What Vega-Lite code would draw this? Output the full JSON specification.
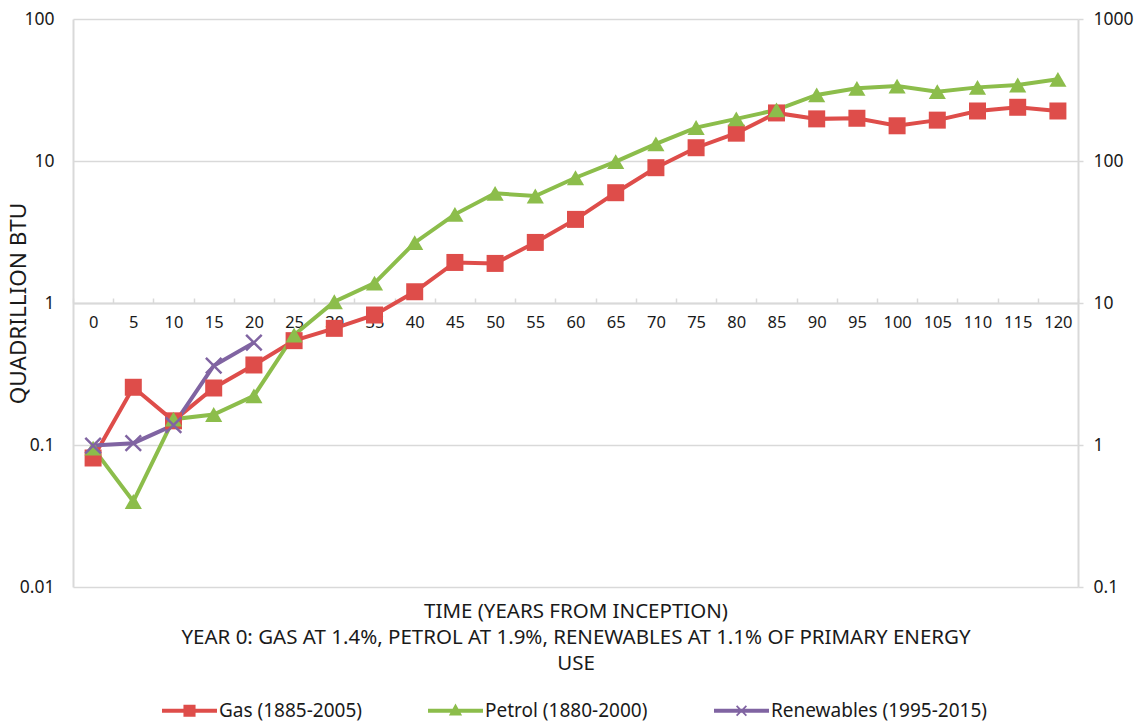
{
  "$schema": "https://vega.github.io/schema/vega-lite/v6.json",
  "width": 1005,
  "height": 568,
  "autosize": "none",
  "padding": {"left": 73, "top": 19, "right": 69, "bottom": 137},
  "background": "white",
  "config": {"view": {"stroke": null}, "font": "Noto Sans"},
  "data": {
    "values": [
      {"t": 0, "series": "Gas (1885-2005)", "v": 0.081},
      {"t": 5, "series": "Gas (1885-2005)", "v": 0.255},
      {"t": 10, "series": "Gas (1885-2005)", "v": 0.148},
      {"t": 15, "series": "Gas (1885-2005)", "v": 0.252},
      {"t": 20, "series": "Gas (1885-2005)", "v": 0.366},
      {"t": 25, "series": "Gas (1885-2005)", "v": 0.543},
      {"t": 30, "series": "Gas (1885-2005)", "v": 0.663},
      {"t": 35, "series": "Gas (1885-2005)", "v": 0.823},
      {"t": 40, "series": "Gas (1885-2005)", "v": 1.2},
      {"t": 45, "series": "Gas (1885-2005)", "v": 1.93},
      {"t": 50, "series": "Gas (1885-2005)", "v": 1.9},
      {"t": 55, "series": "Gas (1885-2005)", "v": 2.67},
      {"t": 60, "series": "Gas (1885-2005)", "v": 3.88},
      {"t": 65, "series": "Gas (1885-2005)", "v": 5.98},
      {"t": 70, "series": "Gas (1885-2005)", "v": 8.97},
      {"t": 75, "series": "Gas (1885-2005)", "v": 12.4},
      {"t": 80, "series": "Gas (1885-2005)", "v": 15.7},
      {"t": 85, "series": "Gas (1885-2005)", "v": 21.8},
      {"t": 90, "series": "Gas (1885-2005)", "v": 19.8},
      {"t": 95, "series": "Gas (1885-2005)", "v": 20.0},
      {"t": 100, "series": "Gas (1885-2005)", "v": 17.7},
      {"t": 105, "series": "Gas (1885-2005)", "v": 19.4},
      {"t": 110, "series": "Gas (1885-2005)", "v": 22.5},
      {"t": 115, "series": "Gas (1885-2005)", "v": 23.9},
      {"t": 120, "series": "Gas (1885-2005)", "v": 22.5},
      {"t": 0, "series": "Petrol (1880-2000)", "v": 0.095},
      {"t": 5, "series": "Petrol (1880-2000)", "v": 0.04},
      {"t": 10, "series": "Petrol (1880-2000)", "v": 0.152},
      {"t": 15, "series": "Petrol (1880-2000)", "v": 0.164},
      {"t": 20, "series": "Petrol (1880-2000)", "v": 0.222},
      {"t": 25, "series": "Petrol (1880-2000)", "v": 0.595},
      {"t": 30, "series": "Petrol (1880-2000)", "v": 1.02},
      {"t": 35, "series": "Petrol (1880-2000)", "v": 1.38},
      {"t": 40, "series": "Petrol (1880-2000)", "v": 2.66},
      {"t": 45, "series": "Petrol (1880-2000)", "v": 4.21},
      {"t": 50, "series": "Petrol (1880-2000)", "v": 5.92},
      {"t": 55, "series": "Petrol (1880-2000)", "v": 5.67},
      {"t": 60, "series": "Petrol (1880-2000)", "v": 7.62},
      {"t": 65, "series": "Petrol (1880-2000)", "v": 9.89},
      {"t": 70, "series": "Petrol (1880-2000)", "v": 13.2},
      {"t": 75, "series": "Petrol (1880-2000)", "v": 17.2},
      {"t": 80, "series": "Petrol (1880-2000)", "v": 19.8},
      {"t": 85, "series": "Petrol (1880-2000)", "v": 22.9},
      {"t": 90, "series": "Petrol (1880-2000)", "v": 29.2},
      {"t": 95, "series": "Petrol (1880-2000)", "v": 32.5},
      {"t": 100, "series": "Petrol (1880-2000)", "v": 33.7},
      {"t": 105, "series": "Petrol (1880-2000)", "v": 30.8},
      {"t": 110, "series": "Petrol (1880-2000)", "v": 33.0},
      {"t": 115, "series": "Petrol (1880-2000)", "v": 34.3},
      {"t": 120, "series": "Petrol (1880-2000)", "v": 37.6},
      {"t": 0, "series": "Renewables (1995-2015)", "v": 0.099},
      {"t": 5, "series": "Renewables (1995-2015)", "v": 0.103},
      {"t": 10, "series": "Renewables (1995-2015)", "v": 0.138},
      {"t": 15, "series": "Renewables (1995-2015)", "v": 0.362},
      {"t": 20, "series": "Renewables (1995-2015)", "v": 0.526}
    ]
  },
  "layer": [
    {
      "mark": {"type": "line", "strokeWidth": 4},
      "encoding": {
        "x": {
          "field": "t", "type": "ordinal", "bandPosition": 0.5,
          "scale": {"type": "band", "domain": [0,5,10,15,20,25,30,35,40,45,50,55,60,65,70,75,80,85,90,95,100,105,110,115,120], "paddingInner": 0, "paddingOuter": 0},
          "axis": {
            "title": ["TIME (YEARS FROM INCEPTION)", "YEAR 0: GAS AT 1.4%, PETROL AT 1.9%, RENEWABLES AT 1.1% OF PRIMARY ENERGY", "USE"],
            "titleFontSize": 20.5, "titleFontWeight": "normal", "titleColor": "#1a1a1a", "titleFont": "Noto Sans",
            "titleY": 298, "titleBaseline": "top", "titleLineHeight": 26,
            "labelAngle": 0, "labelFontSize": 16.5, "labelColor": "#1a1a1a", "labelFont": "Noto Sans",
            "labelPadding": 16,
            "domainColor": "#d9d9d9", "domainWidth": 2,
            "tickColor": "#d9d9d9", "tickWidth": 1.5, "tickSize": -5, "tickBand": "extent",
            "offset": -284, "grid": false
          }
        },
        "y": {
          "field": "v", "type": "quantitative",
          "scale": {"type": "log", "domain": [0.01, 100]},
          "axis": {
            "orient": "left", "values": [0.01, 0.1, 1, 10, 100], "format": "~g",
            "grid": true, "gridColor": "#d9d9d9", "gridWidth": 1.5,
            "domainColor": "#d9d9d9", "domainWidth": 2, "ticks": false,
            "labelPadding": 19, "labelFontSize": 17.5, "labelColor": "#1a1a1a", "labelFont": "Noto Sans",
            "title": "QUADRILLION BTU", "titleFontSize": 22.5, "titleFontWeight": "normal", "titleColor": "#1a1a1a", "titleFont": "Noto Sans",
            "titleX": -55, "titleBaseline": "middle"
          }
        },
        "color": {
          "field": "series", "type": "nominal",
          "scale": {"domain": ["Gas (1885-2005)", "Petrol (1880-2000)", "Renewables (1995-2015)"], "range": ["#DE4D4A", "#8CBD4B", "#8064A2"]},
          "legend": null
        },
        "detail": {"field": "series"}
      }
    },
    {
      "mark": {"type": "point", "filled": true, "opacity": 1},
      "encoding": {
        "x": {"field": "t", "type": "ordinal", "bandPosition": 0.5},
        "y": {
          "field": "v", "type": "quantitative",
          "axis": {
            "orient": "right", "values": [0.01, 0.1, 1, 10, 100], "labelExpr": "datum.value * 10",
            "grid": false, "domainColor": "#d9d9d9", "domainWidth": 2,
            "ticks": true, "tickColor": "#d9d9d9", "tickWidth": 1.5, "tickSize": 5,
            "labelPadding": 10, "labelFontSize": 17.5, "labelColor": "#1a1a1a", "labelFont": "Noto Sans",
            "title": null
          }
        },
        "color": {"field": "series", "type": "nominal", "legend": null},
        "shape": {
          "field": "series", "type": "nominal",
          "scale": {"domain": ["Gas (1885-2005)", "Petrol (1880-2000)", "Renewables (1995-2015)"], "range": ["square", "triangle-up", "M-1,-0.8L-0.8,-1L1,0.8L0.8,1Z M-0.8,1L-1,0.8L0.8,-1L1,-0.8Z"]},
          "legend": null
        },
        "size": {
          "field": "series", "type": "nominal",
          "scale": {"domain": ["Gas (1885-2005)", "Petrol (1880-2000)", "Renewables (1995-2015)"], "range": [289, 300, 225]},
          "legend": null
        }
      }
    },
    {
      "mark": {"type": "point", "filled": true, "opacity": 0},
      "encoding": {
        "x": {"field": "t", "type": "ordinal", "bandPosition": 0.5},
        "y": {"field": "v", "type": "quantitative", "axis": null},
        "color": {
          "field": "series", "type": "nominal",
          "legend": {
            "orient": "none", "legendX": 89, "legendY": 664, "direction": "horizontal", "title": null,
            "symbolSize": 3025, "symbolOpacity": 1, "symbolStrokeWidth": 0,
            "labelFontSize": 19, "labelFont": "Noto Sans", "labelColor": "#1a1a1a", "labelLimit": 400,
            "columnPadding": 66, "labelOffset": 2
          }
        },
        "shape": {
          "field": "series", "type": "nominal",
          "scale": {"domain": ["Gas (1885-2005)", "Petrol (1880-2000)", "Renewables (1995-2015)"], "range": [
            "M-1,-0.075H1V0.075H-1Z M-0.22,-0.22H0.22V0.22H-0.22Z",
            "M-1,-0.075H1V0.075H-1Z M0,-0.26L0.24,0.17L-0.24,0.17Z",
            "M-1,-0.075H1V0.075H-1Z M-0.2,-0.155L-0.155,-0.2L0.2,0.155L0.155,0.2Z M-0.155,0.2L-0.2,0.155L0.155,-0.2L0.2,-0.155Z"
          ]},
          "legend": {
            "orient": "none", "legendX": 89, "legendY": 664, "direction": "horizontal", "title": null,
            "symbolSize": 3025, "symbolOpacity": 1, "symbolStrokeWidth": 0,
            "labelFontSize": 19, "labelFont": "Noto Sans", "labelColor": "#1a1a1a", "labelLimit": 400,
            "columnPadding": 66, "labelOffset": 2
          }
        }
      }
    }
  ],
  "resolve": {
    "scale": {"shape": "independent", "size": "independent"},
    "axis": {"y": "independent"},
    "legend": {"color": "independent", "shape": "independent"}
  }
}
